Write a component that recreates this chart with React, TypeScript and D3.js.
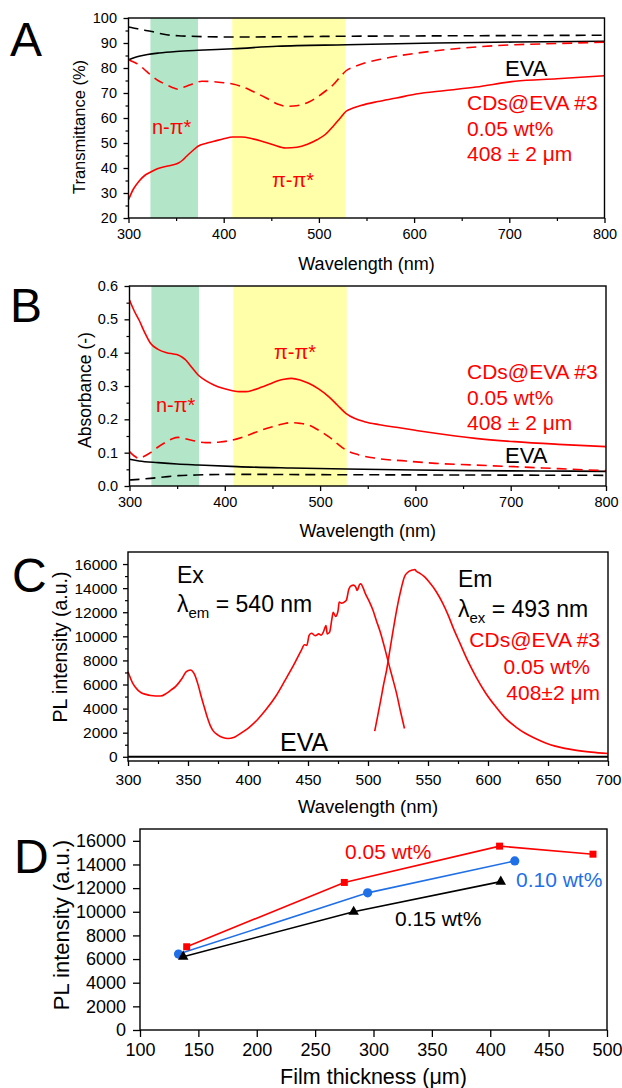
import React, { useEffect, useRef } from 'react';
import * as d3 from 'd3';

type Pt = [number, number];

// ---- Panel A: transmittance (%) vs wavelength (nm)
const aCdsSolid: Pt[] = [
  [300, 27.3], [305, 31.5], [311, 34.7], [317, 37], [323, 38.3], [331, 39.8], [340, 40.7], [347, 41.3],
  [352.5, 42], [357, 43.2], [361, 44.7], [367, 46.8], [373, 48.7], [381, 49.8], [390, 50.7], [400, 51.7],
  [409.5, 52.4], [419, 52.4], [430, 51.7], [440, 50.7], [452, 49.3], [465, 48], [477, 48.3], [488, 49.5],
  [498, 51.3], [507, 53.5], [515, 56.7], [522, 59.8], [528.6, 62.7], [536, 64], [544, 65], [562, 66.6],
  [581.5, 68], [602, 69.6], [633, 71], [665, 72.4], [706, 74.7], [750, 75.7], [800, 76.9],
];
const aCdsDash: Pt[] = [
  [300, 83.3], [306, 82.3], [311, 81.3], [317, 79.3], [323, 77.3], [331, 75], [340, 73.3], [346, 72.2],
  [352.5, 71.5], [358, 72.3], [365, 73.3], [371, 74.2], [377, 74.7], [390, 74.5], [400, 74.1], [409.5, 73.6],
  [418, 72.7], [427, 71.3], [438, 69.3], [448, 67.3], [457, 65.5], [465, 64.7], [473, 64.8], [481.5, 65.3],
  [490, 66.5], [498, 68.3], [507, 70.8], [515, 73.3], [522, 76.3], [528.6, 78.9], [538, 80.6], [548, 82],
  [565, 83.5], [581, 84.7], [602, 85.9], [623, 86.9], [665, 88.4], [706, 89.3], [750, 89.8], [800, 90.3],
];
const aEvaSolid: Pt[] = [
  [300, 83.3], [305, 84], [311, 84.7], [320, 85.4], [332, 86], [350, 86.6], [373, 87.1], [410, 87.7],
  [456, 88.7], [529, 89.3], [623, 90], [706, 90.4], [800, 90.7],
];
const aEvaDash: Pt[] = [
  [300, 96.4], [305, 96], [311, 95.6], [317, 95.1], [323, 94.7], [331, 94], [340, 93.3], [352, 92.9],
  [365, 92.7], [410, 92.4], [529, 92.7], [650, 92.9], [800, 93.1],
];
const aXTicks = [300, 400, 500, 600, 700, 800];
const aXMinor = [350, 450, 550, 650, 750];
const aYTicks = [20, 30, 40, 50, 60, 70, 80, 90, 100];
const aYMinor = [25, 35, 45, 55, 65, 75, 85, 95];

// ---- Panel B: absorbance (-) vs wavelength (nm)
const bCdsSolid: Pt[] = [
  [300, 0.558], [305, 0.525], [310, 0.498], [316, 0.46], [322, 0.428], [330, 0.41], [339, 0.4], [346, 0.396],
  [351, 0.393], [355, 0.387], [359, 0.378], [365, 0.357], [372, 0.333], [380, 0.316], [388.5, 0.303],
  [398, 0.293], [408, 0.286], [415, 0.283], [422, 0.283], [430, 0.288], [438, 0.296], [447, 0.306],
  [455, 0.315], [462, 0.32], [470, 0.323], [479, 0.318], [488, 0.308], [498, 0.292], [509, 0.268],
  [518, 0.243], [527, 0.218], [536, 0.203], [546.5, 0.193], [562, 0.184], [580, 0.176], [600, 0.167],
  [621, 0.158], [642, 0.15], [663, 0.143], [704, 0.133], [750, 0.125], [800, 0.118],
];
const bCdsDash: Pt[] = [
  [300, 0.103], [305, 0.09], [310, 0.083], [316, 0.09], [322, 0.1], [330, 0.117], [339, 0.133], [345, 0.142],
  [351, 0.146], [357, 0.143], [364, 0.138], [372, 0.133], [380, 0.13], [395, 0.132], [408, 0.138],
  [420, 0.148], [434, 0.163], [450, 0.178], [462, 0.187], [470, 0.19], [479, 0.188], [488, 0.183],
  [498, 0.168], [509, 0.148], [518, 0.127], [527, 0.108], [540, 0.094], [559, 0.083], [590, 0.075],
  [621, 0.068], [660, 0.063], [704, 0.058], [750, 0.052], [800, 0.046],
];
const bEvaSolid: Pt[] = [
  [300, 0.08], [310, 0.075], [330, 0.07], [350, 0.066], [372, 0.063], [413, 0.058], [470, 0.054],
  [527, 0.051], [600, 0.048], [663, 0.046], [730, 0.045], [800, 0.044],
];
const bEvaDash: Pt[] = [
  [300, 0.018], [310, 0.02], [322, 0.023], [336, 0.027], [351, 0.031], [370, 0.033], [408, 0.035],
  [500, 0.034], [650, 0.033], [800, 0.032],
];
const bYTicks = [0, 0.1, 0.2, 0.3, 0.4, 0.5, 0.6];
const bYMinor = [0.05, 0.15, 0.25, 0.35, 0.45, 0.55];

// absorption bands (nm)
const bandNPi: Pt = [323, 373];
const bandPiPi: Pt = [409, 528];

// ---- Panel C: PL intensity vs wavelength
const cEx: Pt[] = [
  [300, 7060], [304, 6090], [308, 5550], [311, 5315], [315, 5180], [319, 5093], [327, 5040], [332, 5260],
  [336, 5550], [340, 5870], [345, 6500], [348.6, 7060], [352, 7200], [355, 6920], [358.5, 5950],
  [361, 5000], [363.5, 4150], [366, 3300], [368.4, 2630], [371, 2150], [375, 1800], [379, 1600],
  [383.3, 1520], [388, 1600], [391.6, 1800], [397, 2150], [401.5, 2490], [408, 3100], [414.7, 3875],
  [423, 5000], [431, 6366], [438, 7600], [444.5, 8860], [447, 9300], [449, 9250], [451, 10100],
  [453, 10250], [456, 10050], [459, 10200], [461, 10100], [463, 10400], [465, 10900], [466, 10200],
  [468, 10350], [470, 11500], [471, 12000], [473, 11650], [475, 12100], [476, 12850], [478, 12750],
  [481, 12900], [482, 13000], [484, 13900], [486, 14200], [488, 14250], [490, 14050], [491, 13800],
  [493, 14300], [494, 14350], [496, 14000], [498, 13500], [501, 12900], [504, 12200], [507, 11300],
  [510.6, 10240], [514, 9000], [517.2, 7750], [520, 6700], [523.8, 5260], [527, 3800], [530.4, 2350],
];
const cEm: Pt[] = [
  [505.6, 2130], [508, 3350], [510.6, 4700], [513, 6000], [515.5, 7200], [518, 8700], [520.5, 10240],
  [523, 11700], [525.5, 13000], [528, 14100], [530.4, 14950], [533, 15300], [537, 15500], [539, 15550],
  [540.3, 15400], [543, 15250], [547, 14950], [551, 14500], [556.9, 13700], [562, 12800], [566.8, 11760],
  [571, 10700], [576.7, 9410], [583, 8000], [590, 6640], [598, 5300], [606.5, 4150], [614, 3250],
  [623, 2490], [631, 1950], [639.5, 1520], [648, 1150], [656, 886], [664, 700], [672.5, 553],
  [686, 390], [700, 277],
];
const cEva: Pt[] = [[300, 0], [400, 0], [500, 0], [600, 0], [700, 0]];
const cXTicks = [300, 350, 400, 450, 500, 550, 600, 650, 700];
const cXMinor = [325, 375, 425, 475, 525, 575, 625, 675];
const cYTicks = [0, 2000, 4000, 6000, 8000, 10000, 12000, 14000, 16000];
const cYMinor = [1000, 3000, 5000, 7000, 9000, 11000, 13000, 15000];

// ---- Panel D: PL intensity vs film thickness (µm)
const d005: Pt[] = [[140, 7040], [275, 12480], [408, 15550], [488, 14870]];
const d010: Pt[] = [[133, 6420], [295, 11600], [421, 14300]];
const d015: Pt[] = [[137, 6200], [283, 10000], [409, 12550]];
const dXTicks = [100, 150, 200, 250, 300, 350, 400, 450, 500];
const dYTicks = [0, 2000, 4000, 6000, 8000, 10000, 12000, 14000, 16000];

const W = 622;
const H = 1088;
const FONT = '"Liberation Sans", Arial, Helvetica, sans-serif';
const RED = '#ff0000';
const BLUE = '#1f6fe6';
const GREEN_BAND = '#b3e6c9';
const YELLOW_BAND = '#ffffaa';

type Box = { l: number; r: number; t: number; b: number };
type Sel = d3.Selection<SVGSVGElement, unknown, null, undefined>;

function txt(svg: Sel, x: number, y: number, s: string, size: number, fill = '#000', anchor = 'start') {
  return svg
    .append('text')
    .attr('x', x)
    .attr('y', y)
    .attr('font-size', size)
    .attr('font-family', FONT)
    .attr('fill', fill)
    .attr('text-anchor', anchor)
    .text(s);
}

function ytitle(svg: Sel, cx: number, cy: number, s: string, size: number) {
  svg
    .append('text')
    .attr('transform', `translate(${cx + size * 0.36},${cy}) rotate(-90)`)
    .attr('text-anchor', 'middle')
    .attr('font-size', size)
    .attr('font-family', FONT)
    .attr('fill', '#000')
    .text(s);
}

function curve(svg: Sel, x: any, y: any, pts: Pt[], color: string, dash: string | null = null, width = 1.6) {
  svg
    .append('path')
    .datum(pts)
    .attr('d', d3.line<Pt>().x(d => x(d[0])).y(d => y(d[1])).curve(d3.curveMonotoneX))
    .attr('fill', 'none')
    .attr('stroke', color)
    .attr('stroke-width', width)
    .attr('stroke-dasharray', dash);
}

function axes(svg: Sel, box: Box, x: any, y: any, o: any) {
  const gx = svg
    .append('g')
    .attr('transform', `translate(0,${box.b})`)
    .call(d3.axisBottom(x).tickValues(o.xt).tickSize(o.ts).tickPadding(o.xp).tickSizeOuter(0).tickFormat(d3.format('d')));
  const gy = svg
    .append('g')
    .attr('transform', `translate(${box.l},0)`)
    .call(d3.axisLeft(y).tickValues(o.yt).tickSize(o.ts).tickPadding(o.yp).tickSizeOuter(0).tickFormat(o.yf ?? d3.format('d')));
  [gx, gy].forEach(g => {
    g.select('.domain').remove();
    g.selectAll('line').attr('stroke', '#000').attr('stroke-width', 1.3);
    g.selectAll('text').attr('font-size', o.fs).attr('font-family', FONT).attr('fill', '#000');
  });
  if (o.xm) {
    svg
      .append('g')
      .attr('transform', `translate(0,${box.b})`)
      .call(d3.axisBottom(x).tickValues(o.xm).tickSize(3).tickFormat(() => ''))
      .call(g => g.select('.domain').remove())
      .call(g => g.selectAll('line').attr('stroke', '#000').attr('stroke-width', 1.2));
  }
  if (o.ym) {
    svg
      .append('g')
      .attr('transform', `translate(${box.l},0)`)
      .call(d3.axisLeft(y).tickValues(o.ym).tickSize(3).tickFormat(() => ''))
      .call(g => g.select('.domain').remove())
      .call(g => g.selectAll('line').attr('stroke', '#000').attr('stroke-width', 1.2));
  }
  svg
    .append('rect')
    .attr('x', box.l)
    .attr('y', box.t)
    .attr('width', box.r - box.l)
    .attr('height', box.b - box.t)
    .attr('fill', 'none')
    .attr('stroke', '#000')
    .attr('stroke-width', 1.4);
}

function bands(svg: Sel, box: Box, x: any) {
  [[bandNPi, GREEN_BAND], [bandPiPi, YELLOW_BAND]].forEach(([b, c]: any) => {
    svg
      .append('rect')
      .attr('x', x(b[0]))
      .attr('y', box.t)
      .attr('width', x(b[1]) - x(b[0]))
      .attr('height', box.b - box.t)
      .attr('fill', c);
  });
}

function drawA(svg: Sel) {
  const box = { l: 128.5, r: 604.5, t: 18, b: 218 };
  const x = d3.scaleLinear().domain([300, 800]).range([box.l, box.r]);
  const y = d3.scaleLinear().domain([20, 100]).range([box.b, box.t]);
  bands(svg, box, x);
  curve(svg, x, y, aEvaDash, '#000', '10,6');
  curve(svg, x, y, aEvaSolid, '#000');
  curve(svg, x, y, aCdsDash, RED, '10,6');
  curve(svg, x, y, aCdsSolid, RED);
  axes(svg, box, x, y, { xt: aXTicks, xm: aXMinor, yt: aYTicks, ym: aYMinor, ts: 5, xp: 6, yp: 6.5, fs: 14.5 });
  txt(svg, 10, 56, 'A', 48);
  ytitle(svg, 79, 127, 'Transmittance (%)', 16.5);
  txt(svg, (box.l + box.r) / 2, 270, 'Wavelength (nm)', 18, '#000', 'middle');
  txt(svg, 505, 76, 'EVA', 22);
  txt(svg, 467, 110, 'CDs@EVA #3', 21, RED);
  txt(svg, 467, 136, '0.05 wt%', 21, RED);
  txt(svg, 467, 161, '408 ± 2 μm', 21, RED);
  txt(svg, 152, 134, 'n-π*', 20, RED);
  txt(svg, 272, 187, 'π-π*', 20, RED);
}

function drawB(svg: Sel) {
  const box = { l: 129.5, r: 606, t: 286, b: 486 };
  const x = d3.scaleLinear().domain([300, 800]).range([box.l, box.r]);
  const y = d3.scaleLinear().domain([0, 0.6]).range([box.b, box.t]);
  bands(svg, box, x);
  curve(svg, x, y, bEvaDash, '#000', '10,6');
  curve(svg, x, y, bEvaSolid, '#000');
  curve(svg, x, y, bCdsDash, RED, '10,6');
  curve(svg, x, y, bCdsSolid, RED);
  axes(svg, box, x, y, {
    xt: aXTicks, xm: aXMinor, yt: bYTicks, ym: bYMinor, ts: 5, xp: 6, yp: 6.5, fs: 14.5, yf: d3.format('.1f'),
  });
  txt(svg, 10, 322, 'B', 48);
  ytitle(svg, 85, 390, 'Absorbance (-)', 17.5);
  txt(svg, (box.l + box.r) / 2, 537, 'Wavelength (nm)', 18, '#000', 'middle');
  txt(svg, 274, 359, 'π-π*', 20, RED);
  txt(svg, 156, 412, 'n-π*', 20, RED);
  txt(svg, 467, 379, 'CDs@EVA #3', 21, RED);
  txt(svg, 467, 405, '0.05 wt%', 21, RED);
  txt(svg, 467, 430, '408 ± 2 μm', 21, RED);
  txt(svg, 505, 463, 'EVA', 22);
}

function drawC(svg: Sel) {
  const box = { l: 128, r: 608, t: 552, b: 761 };
  const x = d3.scaleLinear().domain([300, 700]).range([box.l, box.r]);
  const y = d3.scaleLinear().domain([-350, 17000]).range([box.b, box.t]);
  curve(svg, x, y, cEva, '#000', null, 2);
  curve(svg, x, y, cEx, RED);
  curve(svg, x, y, cEm, RED);
  axes(svg, box, x, y, { xt: cXTicks, xm: cXMinor, yt: cYTicks, ym: cYMinor, ts: 5, xp: 8, yp: 5.5, fs: 15.5 });
  txt(svg, 12, 592, 'C', 48);
  ytitle(svg, 59.5, 647, 'PL intensity (a.u.)', 19.5);
  txt(svg, (box.l + box.r) / 2, 813, 'Wavelength (nm)', 18.5, '#000', 'middle');
  txt(svg, 177, 583, 'Ex', 23);
  const ex = txt(svg, 177, 612, 'λ', 23);
  ex.append('tspan').attr('font-size', 15).attr('dy', 6).text('em');
  ex.append('tspan').attr('dy', -6).text(' = 540 nm');
  txt(svg, 458, 587, 'Em', 23);
  const em = txt(svg, 458, 617, 'λ', 23);
  em.append('tspan').attr('font-size', 15).attr('dy', 6).text('ex');
  em.append('tspan').attr('dy', -6).text(' = 493 nm');
  txt(svg, 600, 647, 'CDs@EVA #3', 21, RED, 'end');
  txt(svg, 590, 674, '0.05 wt%', 21, RED, 'end');
  txt(svg, 600, 700, '408±2 μm', 21, RED, 'end');
  txt(svg, 280, 751, 'EVA', 25);
}

function drawD(svg: Sel) {
  const box = { l: 140, r: 607, t: 829, b: 1030 };
  const x = d3.scaleLinear().domain([100, 500]).range([box.l, box.r]);
  const y = d3.scaleLinear().domain([0, 17000]).range([box.b, box.t]);
  const series: [Pt[], string, any][] = [
    [d010, BLUE, 'circle'],
    [d005, RED, d3.symbolSquare],
    [d015, '#000', d3.symbolTriangle],
  ];
  series.forEach(([pts, c]) => {
    svg
      .append('path')
      .datum(pts)
      .attr('d', d3.line<Pt>().x(d => x(d[0])).y(d => y(d[1])))
      .attr('fill', 'none')
      .attr('stroke', c)
      .attr('stroke-width', 1.6);
  });
  series.forEach(([pts, c, sym]) => {
    pts.forEach(d => {
      if (sym === 'circle') {
        svg.append('circle').attr('cx', x(d[0])).attr('cy', y(d[1])).attr('r', 4.6).attr('fill', c);
      } else {
        svg
          .append('path')
          .attr('d', d3.symbol().type(sym).size(sym === d3.symbolSquare ? 49 : 48)())
          .attr('transform', `translate(${x(d[0])},${y(d[1])})`)
          .attr('fill', c);
      }
    });
  });
  axes(svg, box, x, y, { xt: dXTicks, yt: dYTicks, ts: 7, xp: 6, yp: 7, fs: 18 });
  txt(svg, 14, 873, 'D', 48);
  ytitle(svg, 61.5, 925, 'PL intensity (a.u.)', 22);
  txt(svg, (box.l + box.r) / 2, 1084, 'Film thickness (μm)', 21.5, '#000', 'middle');
  txt(svg, 345, 859, '0.05 wt%', 21, RED);
  txt(svg, 516, 887, '0.10 wt%', 21, BLUE);
  txt(svg, 395, 926, '0.15 wt%', 21, '#000');
}

export default function App() {
  const ref = useRef<SVGSVGElement>(null);
  useEffect(() => {
    if (!ref.current) return;
    const svg = d3.select(ref.current) as Sel;
    svg.selectAll('*').remove();
    drawA(svg);
    drawB(svg);
    drawC(svg);
    drawD(svg);
  }, []);
  return (
    <svg
      ref={ref}
      width={W}
      height={H}
      style={{ position: 'absolute', left: 0, top: 0, background: '#fff' }}
    />
  );
}
